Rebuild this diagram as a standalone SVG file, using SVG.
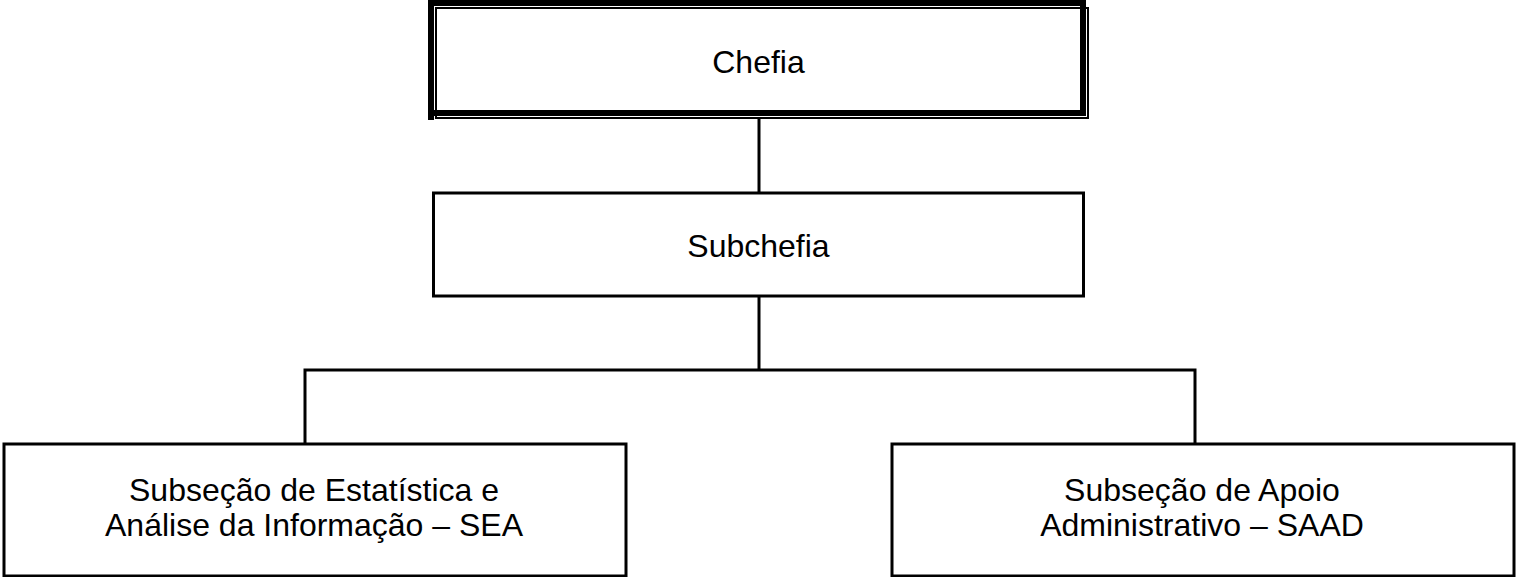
<svg xmlns="http://www.w3.org/2000/svg" width="1518" height="577" viewBox="0 0 1518 577">
<style>
.box{fill:#fff;stroke:#000;stroke-width:3}
.lbl{font-family:"Liberation Sans",Arial,sans-serif;font-size:32px;fill:#000;text-anchor:middle}
.conn{stroke:#000;stroke-width:3;fill:none}
</style>
<rect width="1518" height="577" fill="#fff"/>
<g id="connectors">
<line class="conn" x1="759" y1="118" x2="759" y2="193"/>
<line class="conn" x1="759" y1="296" x2="759" y2="370"/>
<polyline class="conn" points="305,444 305,370 1195,370 1195,444"/>
</g>
<g id="chefia">
<rect x="436" y="8" width="652" height="110" fill="#fff" stroke="#000" stroke-width="2"/>
<rect x="431" y="3" width="652" height="110" fill="none" stroke="#000" stroke-width="6"/>
<line x1="431" y1="0" x2="431" y2="120" stroke="#000" stroke-width="6"/>
<text class="lbl" x="758.5" y="73">Chefia</text>
</g>
<g id="subchefia">
<rect class="box" x="433.5" y="193" width="650" height="103"/>
<text class="lbl" x="758.5" y="257">Subchefia</text>
</g>
<g id="sea">
<rect class="box" x="4" y="444" width="622" height="132"/>
<text class="lbl" x="314" y="501">Subseção de Estatística e</text>
<text class="lbl" x="314" y="536">Análise da Informação – SEA</text>
</g>
<g id="saad">
<rect class="box" x="892" y="444" width="622" height="132"/>
<text class="lbl" x="1202" y="501">Subseção de Apoio</text>
<text class="lbl" x="1202" y="536">Administrativo – SAAD</text>
</g>
</svg>
